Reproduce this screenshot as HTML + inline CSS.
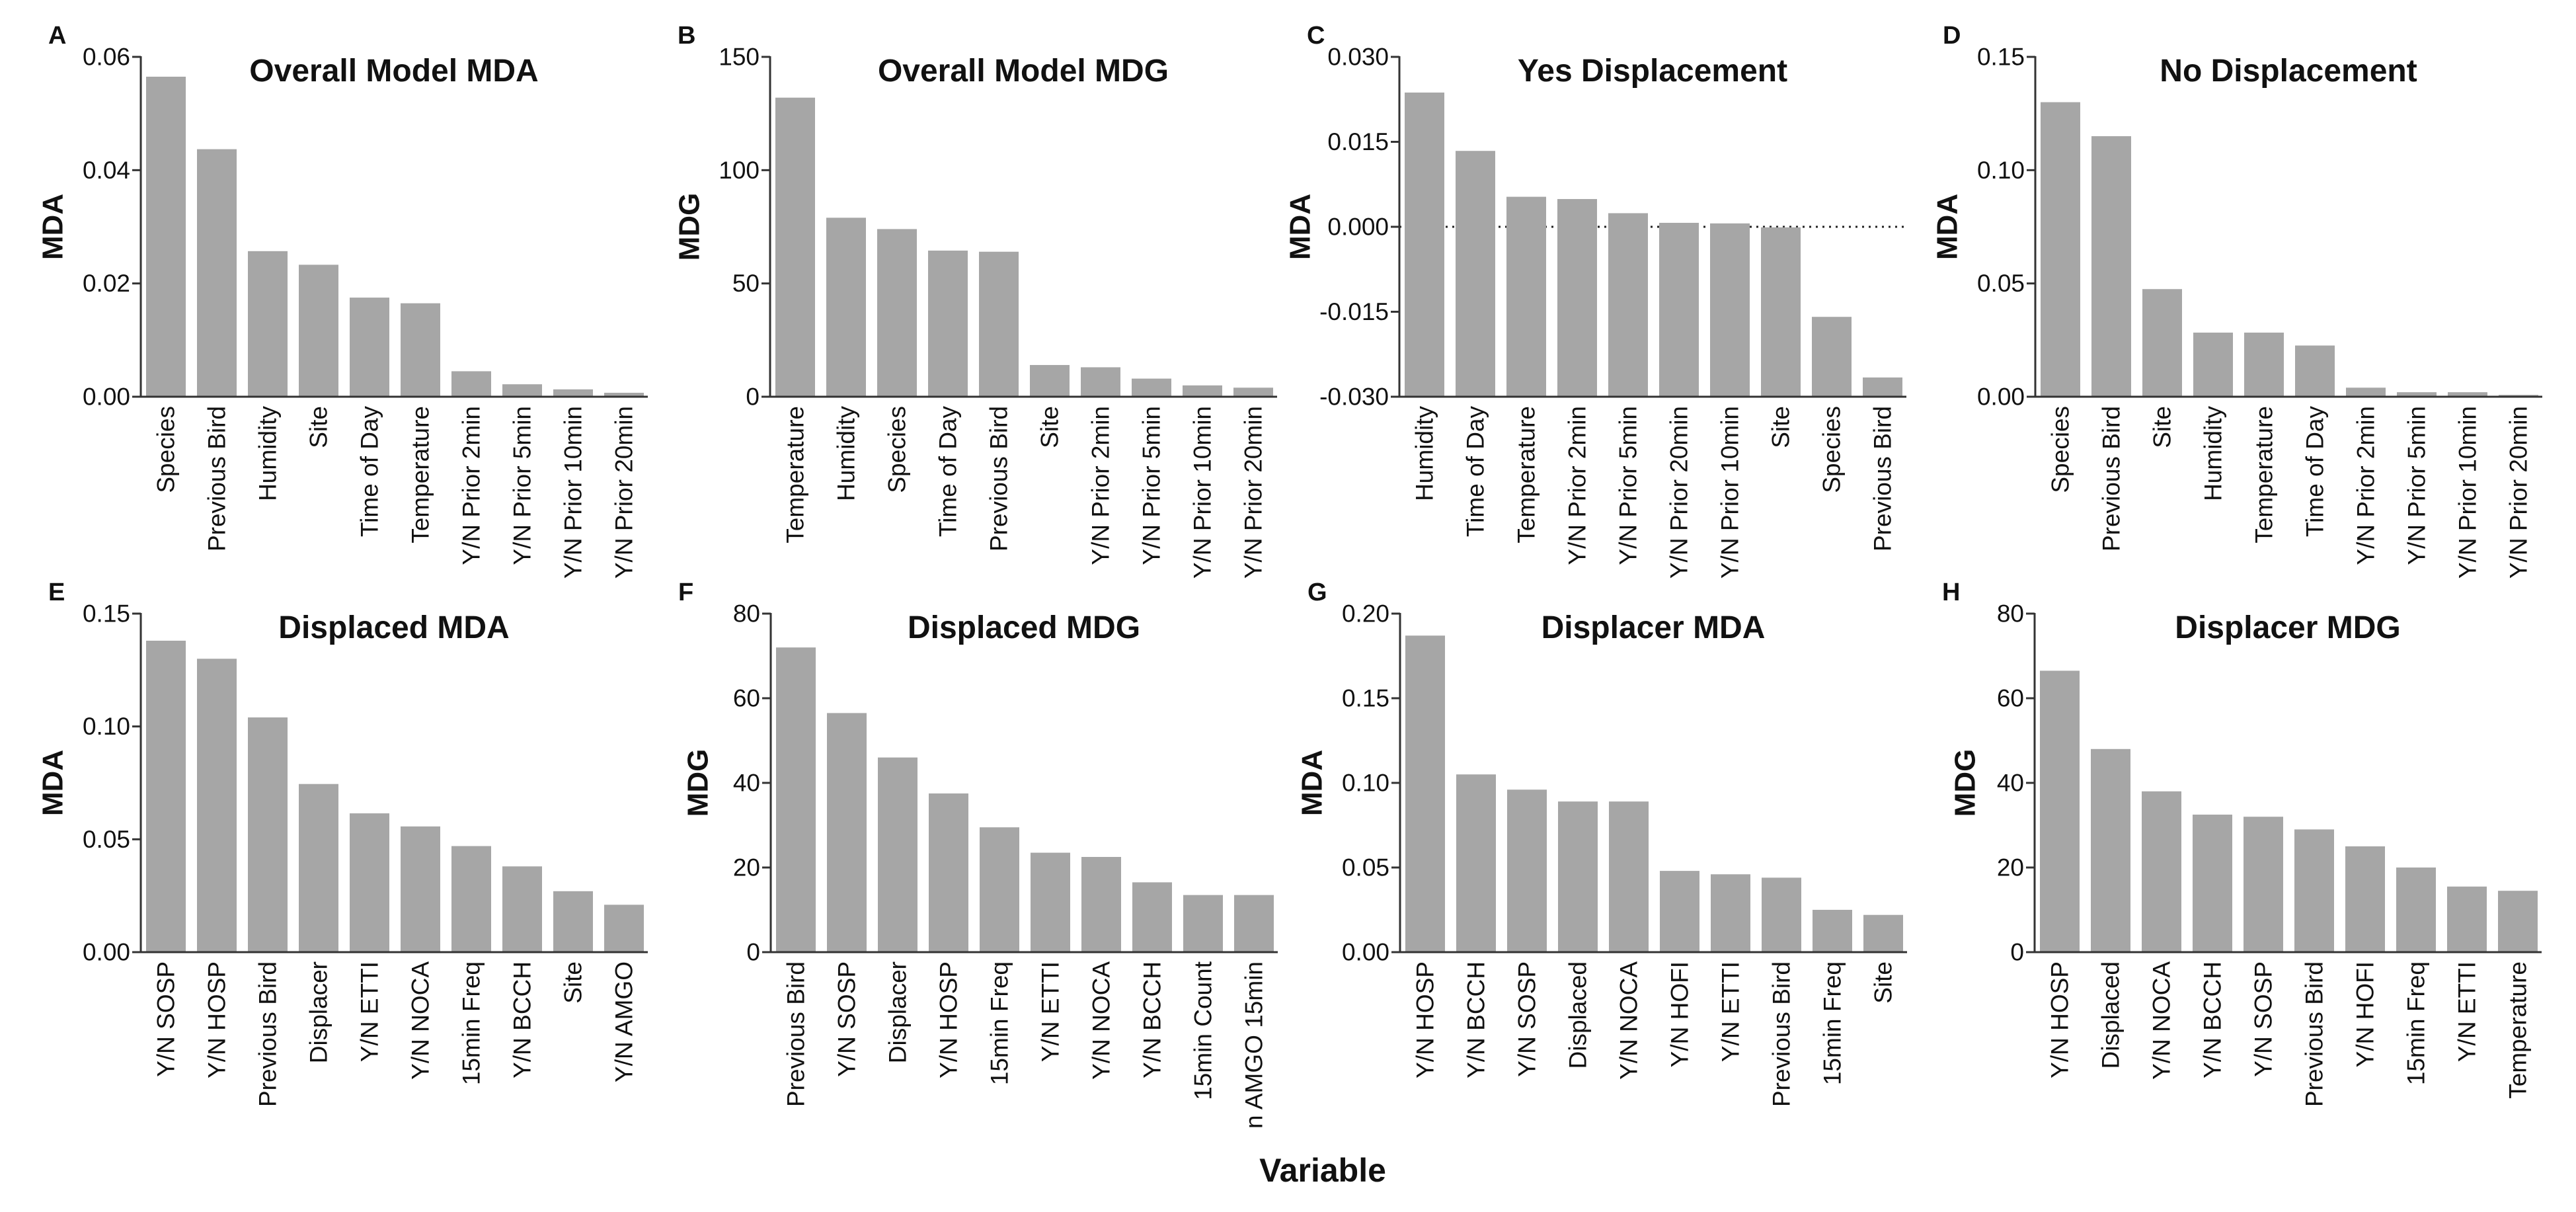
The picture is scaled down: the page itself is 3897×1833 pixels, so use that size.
<!DOCTYPE html>
<html><head><meta charset="utf-8"><style>
html,body{margin:0;padding:0;background:#fff;}
svg{display:block;font-family:"Liberation Sans",Arial,sans-serif;}
</style></head><body>
<svg id="fig" width="3897" height="1833" viewBox="0 0 3897 1833" xmlns="http://www.w3.org/2000/svg">
<text x="2001" y="1787" font-size="50" font-weight="bold" text-anchor="middle" fill="#111">Variable</text>
</svg>
<script>
const catsA=["Species","Previous Bird","Humidity","Site","Time of Day","Temperature","Y/N Prior 2min","Y/N Prior 5min","Y/N Prior 10min","Y/N Prior 20min"];
const valsA=[0.0565,0.0437,0.0257,0.0233,0.0175,0.0165,0.0045,0.0022,0.0013,0.0007];
const ticksA=["0.00","0.02","0.04","0.06"];
const catsB=["Temperature","Humidity","Species","Time of Day","Previous Bird","Site","Y/N Prior 2min","Y/N Prior 5min","Y/N Prior 10min","Y/N Prior 20min"];
const valsB=[132,79,74,64.5,64,14,13,8,5,4];
const ticksB=["0","50","100","150"];
const catsC=["Humidity","Time of Day","Temperature","Y/N Prior 2min","Y/N Prior 5min","Y/N Prior 20min","Y/N Prior 10min","Site","Species","Previous Bird"];
const valsC=[0.0237,0.0134,0.0053,0.0049,0.0024,0.0007,0.0006,-0.0001,-0.0159,-0.0266];
const ticksC=["-0.030","-0.015","0.000","0.015","0.030"];
const catsD=["Species","Previous Bird","Site","Humidity","Temperature","Time of Day","Y/N Prior 2min","Y/N Prior 5min","Y/N Prior 10min","Y/N Prior 20min"];
const valsD=[0.130,0.115,0.0475,0.0283,0.0283,0.0226,0.004,0.002,0.002,0.0008];
const ticksD=["0.00","0.05","0.10","0.15"];
const catsE=["Y/N SOSP","Y/N HOSP","Previous Bird","Displacer","Y/N ETTI","Y/N NOCA","15min Freq","Y/N BCCH","Site","Y/N AMGO"];
const valsE=[0.138,0.130,0.104,0.0745,0.0615,0.0557,0.047,0.038,0.027,0.021];
const ticksE=["0.00","0.05","0.10","0.15"];
const catsF=["Previous Bird","Y/N SOSP","Displacer","Y/N HOSP","15min Freq","Y/N ETTI","Y/N NOCA","Y/N BCCH","15min Count","n AMGO 15min"];
const valsF=[72,56.5,46,37.5,29.5,23.5,22.5,16.5,13.5,13.5];
const ticksF=["0","20","40","60","80"];
const catsG=["Y/N HOSP","Y/N BCCH","Y/N SOSP","Displaced","Y/N NOCA","Y/N HOFI","Y/N ETTI","Previous Bird","15min Freq","Site"];
const valsG=[0.187,0.105,0.096,0.089,0.089,0.048,0.046,0.044,0.025,0.022];
const ticksG=["0.00","0.05","0.10","0.15","0.20"];
const catsH=["Y/N HOSP","Displaced","Y/N NOCA","Y/N BCCH","Y/N SOSP","Previous Bird","Y/N HOFI","15min Freq","Y/N ETTI","Temperature"];
const valsH=[66.5,48,38,32.5,32,29,25,20,15.5,14.5];
const ticksH=["0","20","40","60","80"];

const NS="http://www.w3.org/2000/svg";
const svg=document.getElementById('fig');
function mk(tag,attrs,parent){const e=document.createElementNS(NS,tag);for(const k in attrs)e.setAttribute(k,attrs[k]);(parent||svg).appendChild(e);return e;}

const panels=[
 {id:"a",letter:"A",title:"Overall Model MDA",ylab:"MDA",cats:catsA,vals:valsA,ticks:ticksA,ax:213,top:86,bot:600,labOff:133,zeroLine:false},
 {id:"b",letter:"B",title:"Overall Model MDG",ylab:"MDG",cats:catsB,vals:valsB,ticks:ticksB,ax:1165,top:86,bot:600,labOff:122,zeroLine:false},
 {id:"c",letter:"C",title:"Yes Displacement",ylab:"MDA",cats:catsC,vals:valsC,ticks:ticksC,ax:2117,top:86,bot:600,labOff:150,zeroLine:true},
 {id:"d",letter:"D",title:"No Displacement",ylab:"MDA",cats:catsD,vals:valsD,ticks:ticksD,ax:3079,top:86,bot:600,labOff:133,zeroLine:false},
 {id:"e",letter:"E",title:"Displaced MDA",ylab:"MDA",cats:catsE,vals:valsE,ticks:ticksE,ax:213,top:928,bot:1440,labOff:133,zeroLine:false},
 {id:"f",letter:"F",title:"Displaced MDG",ylab:"MDG",cats:catsF,vals:valsF,ticks:ticksF,ax:1166,top:928,bot:1440,labOff:110,zeroLine:false},
 {id:"g",letter:"G",title:"Displacer MDA",ylab:"MDA",cats:catsG,vals:valsG,ticks:ticksG,ax:2118,top:928,bot:1440,labOff:133,zeroLine:false},
 {id:"h",letter:"H",title:"Displacer MDG",ylab:"MDG",cats:catsH,vals:valsH,ticks:ticksH,ax:3078,top:928,bot:1440,labOff:105,zeroLine:false}
];
const W=767, step=77, bw=60, off0=8;

panels.forEach(p=>{
  const g=mk('g',{});
  
  
  const tv=p.ticks.map(Number);
  const ymin=Math.min(...tv), ymax=Math.max(...tv);
  const y=v=>p.bot-(v-ymin)/(ymax-ymin)*(p.bot-p.top);
  const xc=i=>p.ax+off0+i*step+bw/2;
  // letter
  const L=mk('text',{x:p.ax-140,y:p.top-20,'font-size':38,'font-weight':'bold',fill:'#111'},g);
  L.textContent=p.letter;
  
  
  // title
  const T=mk('text',{x:p.ax+383,y:p.top+37,'font-size':48,'font-weight':'bold','text-anchor':'middle',fill:'#111'},g);
  T.textContent=p.title;
  
  
  // y label
  const yl=(p.top+p.bot)/2, xl=p.ax-p.labOff;
  const YL=mk('text',{x:xl,y:yl,'font-size':44,'font-weight':'bold','text-anchor':'middle',fill:'#111',transform:`rotate(-90 ${xl} ${yl})`,'dominant-baseline':'central'},g);
  YL.textContent=p.ylab;
  
  
  // zero dotted line
  if(p.zeroLine){
    const z=mk('line',{x1:p.ax,x2:p.ax+W,y1:y(0),y2:y(0),stroke:'#222','stroke-width':3,'stroke-dasharray':'3 7'},g);
    
    
  }
  // bars
  p.vals.forEach((v,i)=>{
    const yt=y(v), yb=p.bot;
    const r=mk('rect',{x:xc(i)-bw/2,y:Math.min(yt,yb),width:bw,height:Math.abs(yb-yt),fill:'#a6a6a6'},g);
    
    
    const lx=xc(i), ly=p.bot+14;
    const c=mk('text',{x:lx,y:ly,'font-size':37,'text-anchor':'end','dominant-baseline':'central',fill:'#111',transform:`rotate(-90 ${lx} ${ly})`},g);
    c.textContent=p.cats[i];
    
    
  });
  // axes
  const ya=mk('line',{x1:p.ax,x2:p.ax,y1:p.top-1,y2:p.bot+1,stroke:'#333','stroke-width':3},g);
  
  
  const xa=mk('line',{x1:p.ax,x2:p.ax+W,y1:p.bot,y2:p.bot,stroke:'#333','stroke-width':3},g);
  
  
  p.ticks.forEach(t=>{
    const yy=y(Number(t));
    const tk=mk('line',{x1:p.ax-13,x2:p.ax,y1:yy,y2:yy,stroke:'#333','stroke-width':3},g);
    
    
    const tl=mk('text',{x:p.ax-16,y:yy,'font-size':37,'text-anchor':'end','dominant-baseline':'central',fill:'#111'},g);
    tl.textContent=t;
    
    
  });
});
</script>
</body></html>
